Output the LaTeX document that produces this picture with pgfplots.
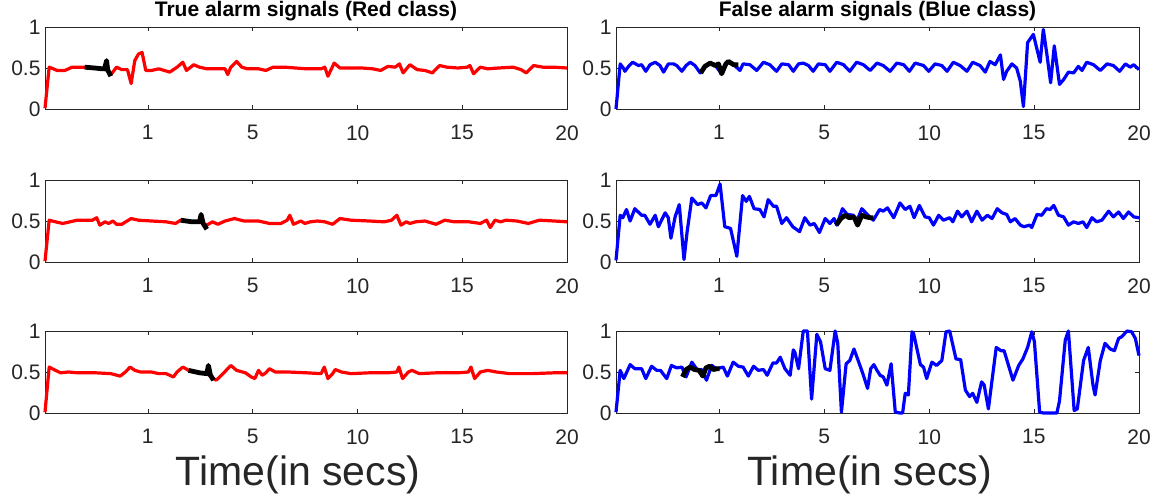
\documentclass[border=0pt]{standalone}
\usepackage{fontspec}
\setmainfont{Liberation Sans}
\usepackage{pgfplots}
\pgfplotsset{compat=1.18}
\definecolor{axgray}{rgb}{0.15,0.15,0.15}

\pgfplotsset{
  sig/.style={
    scale only axis, height=82pt,
    xmin=0, xmax=100, ymin=0, ymax=1,
    xtick={19.7,39.8,59.9,79.9,100},
    xticklabels={1,5,10,15,20},
    ytick={0,0.5,1},
    yticklabels={0,0.5,1},
    tick align=inside,
    major tick length=4pt,
    axis line style={axgray, line width=0.6pt},
    every tick/.style={axgray, line width=0.6pt},
    ticklabel style={font=\fontsize{21}{23}\selectfont, text=axgray},
    xticklabel style={yshift=-13pt},
    yticklabel style={xshift=-1pt},
    title style={font=\fontsize{21}{23}\selectfont\bfseries, text=black, yshift=-3pt},
    xlabel style={font=\fontsize{41}{44}\selectfont, text=axgray,
      at={(axis description cs:0.485,-0.76)}, anchor=center},
    clip=false,
  },
  redl/.style={draw=red, line width=3.2pt, line join=round},
  bluel/.style={draw=blue, line width=3.2pt, line join=round},
  blackl/.style={draw=black, line width=4.8pt, line join=round},
}

\begin{document}
\begin{tikzpicture}
\path[use as bounding box] (0,0) rectangle (1161pt,496pt);

% ---- left column: true alarms
\begin{axis}[sig, width=522pt, at={(45pt,387pt)}, anchor=south west,
  title={True alarm signals (Red class)}]
\addplot[redl] coordinates {
(0,0.01)(0.8,0.51)(1.6,0.49)(2.3,0.47)(3.8,0.47)(5.2,0.51)(6.6,0.51)(7.6,0.51)(9.5,0.50)(11.0,0.49)(12.0,0.47)(12.6,0.42)(13.0,0.45)(13.7,0.51)(14.7,0.48)(15.8,0.48)(16.5,0.31)(17.2,0.59)(17.9,0.67)(18.6,0.69)(19.3,0.47)(20.4,0.47)(21.8,0.49)(23.9,0.45)(25.3,0.51)(26.4,0.57)(27.1,0.47)(28.5,0.54)(29.6,0.51)(31.0,0.49)(33.1,0.49)(34.5,0.49)(35.0,0.42)(35.6,0.51)(36.7,0.58)(37.7,0.51)(38.8,0.49)(40.9,0.49)(42.3,0.47)(43.7,0.51)(45.9,0.51)(48.0,0.50)(50.1,0.49)(52.9,0.49)(53.6,0.51)(54.2,0.40)(55.4,0.56)(56.5,0.50)(58.2,0.50)(60.7,0.50)(62.8,0.49)(64.3,0.47)(65.7,0.52)(67.1,0.51)(67.9,0.55)(68.6,0.44)(69.9,0.54)(71.3,0.48)(72.8,0.47)(74.2,0.44)(75.6,0.53)(77.0,0.51)(79.1,0.50)(80.9,0.51)(81.4,0.53)(82.1,0.43)(83.4,0.51)(84.8,0.49)(86.9,0.50)(89.7,0.51)(91.2,0.48)(92.2,0.44)(93.6,0.53)(95.4,0.51)(97.5,0.51)(100,0.50)
};
\addplot[blackl] coordinates {(7.6,0.51)(9.5,0.50)(11.0,0.49)(11.4,0.49)(11.8,0.59)(12.0,0.48)(12.6,0.40)};
\end{axis}

\begin{axis}[sig, width=522pt, at={(45pt,234pt)}, anchor=south west]
\addplot[redl] coordinates {
(0,0.01)(0.8,0.51)(2.0,0.49)(3.4,0.47)(4.8,0.49)(6.2,0.51)(9.1,0.51)(9.9,0.54)(10.5,0.45)(11.5,0.49)(12.2,0.47)(13.0,0.50)(13.7,0.46)(14.7,0.46)(16.5,0.53)(17.9,0.51)(20.4,0.50)(23.2,0.49)(25.0,0.47)(26.0,0.51)(28.2,0.49)(29.6,0.49)(30.3,0.47)(31.0,0.45)(32.1,0.49)(33.1,0.46)(34.5,0.50)(36.3,0.53)(38.1,0.50)(40.9,0.50)(43.0,0.47)(45.2,0.47)(46.4,0.51)(46.9,0.57)(47.6,0.46)(49.0,0.50)(49.8,0.47)(50.8,0.49)(52.2,0.50)(53.6,0.49)(55.1,0.46)(56.5,0.53)(58.6,0.51)(62.1,0.50)(65.0,0.49)(66.4,0.51)(67.4,0.57)(68.2,0.45)(69.2,0.49)(69.9,0.47)(71.0,0.49)(72.8,0.50)(74.9,0.46)(76.6,0.51)(78.4,0.49)(81.2,0.49)(83.4,0.47)(84.6,0.51)(85.3,0.42)(86.2,0.51)(87.3,0.49)(88.3,0.51)(90.4,0.50)(92.6,0.47)(94.7,0.51)(97.5,0.50)(100,0.49)
};
\addplot[blackl] coordinates {(26.0,0.51)(28.2,0.49)(29.6,0.49)(29.9,0.58)(30.3,0.47)(31.0,0.40)};
\end{axis}

\begin{axis}[sig, width=522pt, at={(45pt,83pt)}, anchor=south west,
  xlabel={Time(in secs)}]
\addplot[redl] coordinates {
(0,0.01)(0.8,0.56)(2.0,0.52)(3.0,0.49)(4.5,0.50)(6.2,0.49)(9.8,0.49)(12.6,0.48)(14.4,0.45)(15.4,0.50)(16.3,0.56)(17.2,0.52)(18.3,0.50)(20.4,0.50)(21.8,0.48)(23.2,0.48)(24.6,0.44)(25.3,0.50)(26.4,0.56)(27.5,0.52)(29.6,0.49)(31.0,0.48)(32.3,0.42)(32.8,0.40)(33.8,0.46)(34.7,0.52)(35.6,0.58)(36.7,0.52)(38.4,0.49)(39.5,0.44)(40.2,0.42)(40.9,0.52)(41.6,0.46)(42.3,0.49)(43.0,0.54)(44.1,0.50)(46.6,0.50)(50.1,0.49)(52.9,0.48)(53.5,0.56)(54.2,0.42)(55.1,0.48)(55.6,0.53)(56.8,0.50)(58.6,0.48)(62.1,0.49)(65.7,0.49)(67.4,0.50)(67.8,0.56)(68.5,0.42)(69.6,0.50)(70.3,0.52)(71.7,0.48)(74.9,0.49)(79.1,0.49)(81.1,0.50)(81.6,0.56)(82.3,0.42)(83.4,0.50)(84.8,0.52)(86.5,0.50)(89.0,0.48)(93.3,0.48)(97.5,0.49)(100,0.49)
};
\addplot[blackl] coordinates {(27.5,0.52)(29.6,0.49)(31.0,0.48)(31.3,0.58)(31.7,0.46)(32.3,0.40)};
\end{axis}

% ---- right column: false alarms
\begin{axis}[sig, width=523pt, at={(616pt,387pt)}, anchor=south west,
  title={False alarm signals (Blue class)}]
\addplot[bluel] coordinates {
(0,0)(0.8,0.55)(1.4,0.50)(1.7,0.46)(2.4,0.52)(3.2,0.57)(4.3,0.53)(4.9,0.54)(5.7,0.46)(6.5,0.54)(7.5,0.57)(8.4,0.53)(9.1,0.45)(10.0,0.55)(11.0,0.55)(11.6,0.53)(12.6,0.46)(13.4,0.53)(14.2,0.57)(15.1,0.53)(16.1,0.44)(17.0,0.52)(18.0,0.56)(19.0,0.53)(20.2,0.43)(21.0,0.55)(21.5,0.58)(22.5,0.54)(23.7,0.47)(24.3,0.55)(25.6,0.54)(26.9,0.47)(28.2,0.57)(29.4,0.54)(30.7,0.46)(31.7,0.55)(33.0,0.54)(33.9,0.46)(34.9,0.55)(35.8,0.56)(36.8,0.53)(37.7,0.46)(38.7,0.55)(40.0,0.54)(40.9,0.46)(42.2,0.57)(43.5,0.54)(44.7,0.46)(46.0,0.57)(47.3,0.54)(48.6,0.47)(49.9,0.56)(51.1,0.53)(52.4,0.46)(53.7,0.56)(55.0,0.54)(56.1,0.46)(57.2,0.56)(58.8,0.53)(59.8,0.46)(61.0,0.55)(62.3,0.53)(63.3,0.46)(64.5,0.57)(65.8,0.53)(67.1,0.46)(68.2,0.57)(69.6,0.53)(70.6,0.45)(71.5,0.58)(72.5,0.54)(73.5,0.66)(74.1,0.36)(74.7,0.46)(75.7,0.55)(76.6,0.50)(77.3,0.34)(77.9,0.03)(78.7,0.81)(79.8,0.91)(81.1,0.57)(81.7,0.97)(82.4,0.66)(83.1,0.32)(83.8,0.77)(84.8,0.30)(85.6,0.36)(86.5,0.45)(87.5,0.44)(88.4,0.52)(89.1,0.47)(90.0,0.57)(91.3,0.54)(92.6,0.47)(93.9,0.55)(95.1,0.53)(96.3,0.46)(97.4,0.55)(98.3,0.51)(99.0,0.54)(100,0.48)
};
\addplot[blackl] coordinates {(16.2,0.44)(17.0,0.52)(18.0,0.56)(19.0,0.53)(19.6,0.55)(20.2,0.43)(21.0,0.55)(21.5,0.58)(22.5,0.54)(23.4,0.54)};
\end{axis}

\begin{axis}[sig, width=523pt, at={(616pt,234pt)}, anchor=south west]
\addplot[bluel] coordinates {
(0,0.02)(0.8,0.57)(1.3,0.54)(2.0,0.64)(2.7,0.50)(3.6,0.65)(4.9,0.57)(5.5,0.57)(6.5,0.46)(7.5,0.57)(8.1,0.43)(9.4,0.60)(10.0,0.54)(10.5,0.29)(11.3,0.55)(12.1,0.70)(13.0,0.03)(13.6,0.37)(14.5,0.78)(15.6,0.70)(16.4,0.72)(17.2,0.66)(18.1,0.81)(19.1,0.81)(19.9,0.95)(20.8,0.43)(21.9,0.41)(23.1,0.07)(24.2,0.81)(24.9,0.74)(25.5,0.80)(26.4,0.65)(27.5,0.64)(28.3,0.55)(29.1,0.76)(30.1,0.68)(30.7,0.68)(31.7,0.47)(32.6,0.54)(33.8,0.43)(35.1,0.37)(36.1,0.54)(37.1,0.45)(37.9,0.47)(38.9,0.36)(40.0,0.53)(40.9,0.47)(41.7,0.53)(42.2,0.45)(43.3,0.65)(44.2,0.58)(45.4,0.57)(46.0,0.49)(47.0,0.65)(48.2,0.57)(49.2,0.51)(50.4,0.64)(51.1,0.62)(51.9,0.66)(53.1,0.54)(54.3,0.72)(55.3,0.64)(56.2,0.68)(57.0,0.54)(58.0,0.69)(59.1,0.55)(59.9,0.54)(60.7,0.45)(61.7,0.57)(62.6,0.51)(63.8,0.54)(64.4,0.49)(65.3,0.62)(66.1,0.55)(67.1,0.62)(68.0,0.49)(69.0,0.62)(70.0,0.51)(71.0,0.57)(71.9,0.53)(72.9,0.65)(73.8,0.60)(74.7,0.58)(75.4,0.49)(76.3,0.53)(77.3,0.45)(78.0,0.43)(79.1,0.45)(79.5,0.42)(80.5,0.58)(81.4,0.57)(82.3,0.65)(83.0,0.64)(83.7,0.69)(84.6,0.57)(85.6,0.55)(86.5,0.45)(87.5,0.49)(88.4,0.47)(89.3,0.49)(90.0,0.42)(91.0,0.54)(91.9,0.49)(92.9,0.51)(94.2,0.62)(95.1,0.55)(96.1,0.61)(97.0,0.53)(98.0,0.61)(99.0,0.55)(100,0.54)
};
\addplot[blackl] coordinates {(42.1,0.45)(43.0,0.53)(43.8,0.57)(44.6,0.54)(45.5,0.55)(46.2,0.45)(47.0,0.57)(47.8,0.55)(48.6,0.54)(49.2,0.54)};
\end{axis}

\begin{axis}[sig, width=523pt, at={(616pt,83pt)}, anchor=south west,
  xlabel={Time(in secs)}]
\addplot[bluel] coordinates {
(0,0.01)(0.8,0.52)(1.5,0.42)(2.7,0.59)(3.6,0.54)(4.9,0.54)(5.7,0.42)(6.8,0.57)(7.8,0.52)(8.5,0.52)(9.7,0.42)(10.6,0.58)(11.6,0.55)(12.6,0.56)(13.4,0.44)(14.5,0.62)(15.6,0.52)(16.4,0.53)(17.3,0.40)(18.3,0.58)(19.2,0.54)(20.5,0.56)(21.3,0.45)(22.4,0.62)(23.4,0.57)(24.3,0.56)(25.3,0.45)(26.3,0.57)(27.2,0.52)(28.2,0.53)(28.9,0.46)(30.0,0.61)(30.7,0.61)(31.4,0.68)(32.3,0.54)(33.3,0.46)(33.9,0.77)(34.2,0.74)(34.9,0.54)(35.8,1.0)(36.6,1.0)(37.4,0.17)(38.4,0.96)(39.1,0.87)(40.0,0.54)(40.9,0.52)(41.9,1.0)(42.4,0.85)(43.1,0.01)(44.0,0.60)(44.7,0.64)(45.5,0.78)(46.3,0.64)(47.2,0.48)(48.1,0.30)(48.7,0.54)(49.3,0.59)(49.9,0.52)(50.5,0.46)(51.1,0.44)(51.8,0.34)(52.6,0.60)(53.4,0.01)(54.3,0.0)(54.8,0.0)(55.3,0.24)(55.9,0.22)(56.6,0.99)(56.9,0.97)(58.2,0.59)(58.8,0.56)(59.4,0.42)(60.4,0.62)(61.3,0.58)(62.3,0.64)(63.1,0.99)(63.8,1.0)(65.0,0.66)(65.9,0.65)(66.8,0.28)(67.6,0.20)(68.2,0.24)(69.0,0.13)(69.9,0.38)(70.4,0.34)(71.2,0.05)(72.7,0.80)(73.6,0.76)(74.2,0.76)(75.9,0.40)(77.0,0.58)(77.8,0.66)(78.7,0.80)(79.5,0.99)(80.0,0.87)(81.0,0.01)(81.7,0.0)(84.3,0.0)(84.8,0.15)(85.9,0.89)(86.5,1.0)(87.6,0.03)(88.2,0.05)(89.4,0.64)(90.3,0.80)(91.2,0.34)(91.6,0.22)(92.6,0.64)(93.5,0.85)(94.5,0.78)(95.3,0.76)(96.1,0.91)(96.7,0.93)(97.7,1.0)(98.6,0.99)(99.3,0.91)(100,0.70)
};
\addplot[blackl] coordinates {(12.7,0.44)(13.4,0.53)(14.2,0.56)(15.0,0.53)(15.9,0.52)(16.6,0.45)(17.2,0.55)(17.9,0.57)(18.6,0.53)(19.3,0.54)(19.8,0.54)};
\end{axis}
\end{tikzpicture}
\end{document}
